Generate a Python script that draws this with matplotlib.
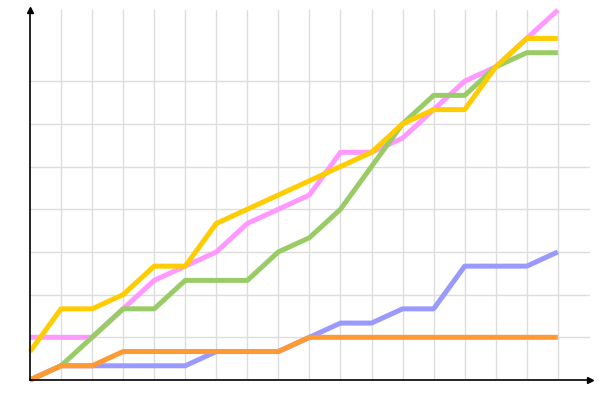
import numpy as np
import matplotlib
matplotlib.use('Agg')
import matplotlib.pyplot as plt

x = np.arange(18)
pink = [3, 3, 3, 5, 7, 8, 9, 11, 12, 13, 16, 16, 17, 19, 21, 22, 24, 26]
blue = [0, 1, 1, 1, 1, 1, 2, 2, 2, 3, 4, 4, 5, 5, 8, 8, 8, 9]
green = [0, 1, 3, 5, 5, 7, 7, 7, 9, 10, 12, 15, 18, 20, 20, 22, 23, 23]
yellow = [2, 5, 5, 6, 8, 8, 11, 12, 13, 14, 15, 16, 18, 19, 19, 22, 24, 24]
orange = [0, 1, 1, 2, 2, 2, 2, 2, 2, 3, 3, 3, 3, 3, 3, 3, 3, 3]

series = [(pink, '#ff99ff'), (blue, '#9999ff'), (green, '#99cc66'),
          (yellow, '#ffcc00'), (orange, '#ff9933')]

fig = plt.figure(figsize=(6, 4), dpi=100)
ax = fig.add_axes([0.05, 0.05, 0.933, 0.925])

for v in range(1, 18):
    ax.axvline(v, color='#dddddd', lw=1, zorder=0)
for h in range(3, 22, 3):
    ax.axhline(h, color='#dddddd', lw=1, zorder=0)

for vals, col in series:
    ax.plot(x, vals, color=col, lw=3.6, solid_capstyle='butt', clip_on=False)

ax.set_xlim(0, 18.03)
ax.set_ylim(0, 26)
ax.set_xticks([])
ax.set_yticks([])
for s in ['top', 'right']:
    ax.spines[s].set_visible(False)
for s in ['left', 'bottom']:
    ax.spines[s].set_linewidth(1.2)
    ax.spines[s].set_color('black')

# arrow heads
ax.plot(1, 0, '>', color='black', ms=5, transform=ax.transAxes, clip_on=False)
ax.plot(0, 1, '^', color='black', ms=5, transform=ax.transAxes, clip_on=False)

fig.savefig('out.png', dpi=100)
